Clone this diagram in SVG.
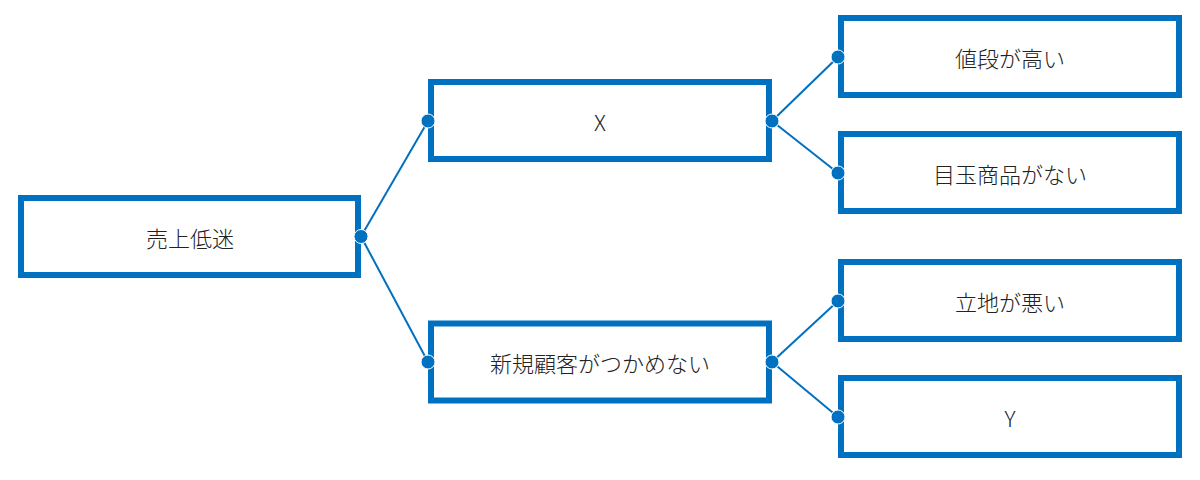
<svg xmlns="http://www.w3.org/2000/svg" width="1200" height="480" viewBox="0 0 1200 480">
<style>
.box{fill:#fff;stroke:#0070C0;stroke-width:6}
.lbl{font-family:"Noto Sans CJK JP","Noto Sans",sans-serif;font-size:22px;font-weight:300;fill:#222;text-anchor:middle;dominant-baseline:central}
.ln{stroke:#0070C0;stroke-width:2;fill:none}
.dot{fill:#0070C0;stroke:#fff;stroke-width:1}
</style>
<rect width="1200" height="480" fill="#fff"/>
<g id="connectors">
<line class="ln" x1="361" y1="236.5" x2="428" y2="121"/>
<line class="ln" x1="361" y1="236.5" x2="428" y2="362"/>
<line class="ln" x1="772" y1="121" x2="838" y2="57"/>
<line class="ln" x1="772" y1="121" x2="838" y2="173"/>
<line class="ln" x1="772" y1="362" x2="838" y2="301"/>
<line class="ln" x1="772" y1="362" x2="838" y2="417"/>
</g>
<g id="root"><rect class="box" x="21" y="198" width="337" height="77"/><text class="lbl" x="190" y="237">売上低迷</text></g>
<g id="nodeX"><rect class="box" x="431" y="82" width="338" height="77"/><text class="lbl" x="600" y="121">X</text></g>
<g id="nodeNew"><rect class="box" x="431" y="323.5" width="338" height="77"/><text class="lbl" x="600" y="362">新規顧客がつかめない</text></g>
<g id="nodePrice"><rect class="box" x="841" y="18" width="338" height="77"/><text class="lbl" x="1010" y="57">値段が高い</text></g>
<g id="nodeFeature"><rect class="box" x="841" y="134" width="338" height="77"/><text class="lbl" x="1010" y="173">目玉商品がない</text></g>
<g id="nodeLocation"><rect class="box" x="841" y="262" width="338" height="77"/><text class="lbl" x="1010" y="301">立地が悪い</text></g>
<g id="nodeY"><rect class="box" x="841" y="378" width="338" height="77"/><text class="lbl" x="1010" y="417">Y</text></g>
<g id="dots">
<circle class="dot" cx="361" cy="236.5" r="7"/>
<circle class="dot" cx="428" cy="121" r="7"/>
<circle class="dot" cx="428" cy="362" r="7"/>
<circle class="dot" cx="772" cy="121" r="7"/>
<circle class="dot" cx="772" cy="362" r="7"/>
<circle class="dot" cx="838" cy="57" r="7"/>
<circle class="dot" cx="838" cy="173" r="7"/>
<circle class="dot" cx="838" cy="301" r="7"/>
<circle class="dot" cx="838" cy="417" r="7"/>
</g>
</svg>
